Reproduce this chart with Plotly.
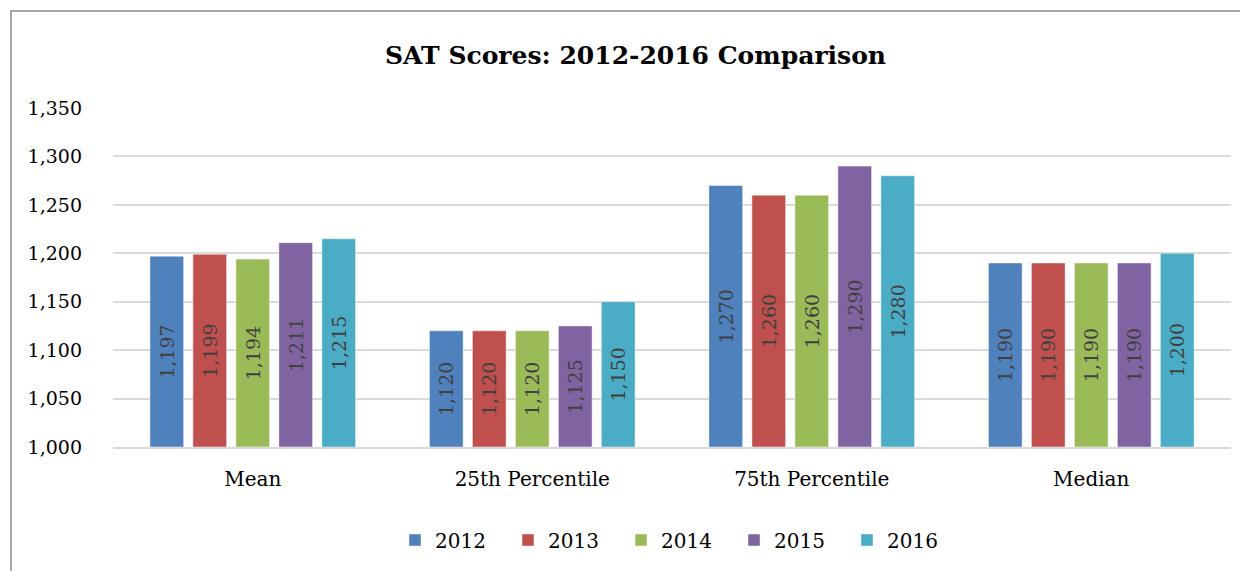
import plotly.graph_objects as go

categories = ["Mean", "25th Percentile", "75th Percentile", "Median"]
years = ["2012", "2013", "2014", "2015", "2016"]
v2012 = [1197, 1120, 1270, 1190]
v2013 = [1199, 1120, 1260, 1190]
v2014 = [1194, 1120, 1260, 1190]
v2015 = [1211, 1125, 1290, 1190]
v2016 = [1215, 1150, 1280, 1200]
series = [v2012, v2013, v2014, v2015, v2016]
colors = ["#4F81BD", "#C0504D", "#9BBB59", "#8064A2", "#4BACC6"]
axis_min = 1000
tick_vals = [1000, 1050, 1100, 1150, 1200, 1250, 1300, 1350]
tick_text = ["1,000", "1,050", "1,100", "1,150", "1,200", "1,250", "1,300", "1,350"]

FONT = "DejaVu Serif"
# page body has an 8px margin, so the figure is laid out 8px up/left
W, H = 1240, 563
ML, MR, MT, MB = 105, 17, 100, 124
pw = W - ML - MR
ph = H - MT - MB

fig = go.Figure()
for name, vals, c in zip(years, series, colors):
    fig.add_trace(go.Bar(
        name=name, x=categories, y=[v - axis_min for v in vals], base=axis_min,
        marker=dict(color=c, line=dict(color="rgba(255,255,255,0.45)", width=1)),
        text=[f"{v:,}" for v in vals], textposition="inside", insidetextanchor="middle",
        textangle=-90, textfont=dict(family=FONT, size=19, color="#404040"),
        constraintext="none", hovertext=[f"{v:,}" for v in vals], hoverinfo="text+name",
    ))

fig.add_shape(type="rect", xref="paper", yref="paper",
              x0=(3 - ML) / pw, x1=(W + 30 - ML) / pw,
              y0=-(H + 30 - MT - ph) / ph, y1=(H - 3 - MB) / ph,
              line=dict(color="#8C8C8C", width=1.5), layer="below")

fig.update_layout(
    width=W, height=H,
    margin=dict(l=ML, r=MR, t=MT, b=MB),
    paper_bgcolor="white", plot_bgcolor="white",
    barmode="group", bargap=0.231, bargroupgap=0.216,
    title=dict(text="<b>SAT Scores: 2012-2016 Comparison</b>", x=627.5 / W, xanchor="center",
               y=1 - 47 / H, yanchor="middle", font=dict(family=FONT, size=25, color="#000000")),
    font=dict(family=FONT, size=19, color="#000000"),
    showlegend=True,
    legend=dict(orientation="h", x=(387 - ML) / pw, xanchor="left", y=-(532 - MT - ph) / ph, yanchor="middle",
                font=dict(family=FONT, size=20, color="#000000"), entrywidth=68, entrywidthmode="pixels",
                traceorder="normal"),
    yaxis=dict(range=[1000, 1350], tickvals=tick_vals, ticktext=tick_text, showgrid=True,
               gridcolor="#D9D9D9", gridwidth=1.5, zeroline=False, showline=False,
               ticklabelstandoff=30, tickfont=dict(family=FONT, size=19)),
    xaxis=dict(showline=True, linecolor="#D9D9D9", linewidth=1.5, tickfont=dict(family=FONT, size=20),
               ticklabelstandoff=13),
)
fig.write_html("out.html")
